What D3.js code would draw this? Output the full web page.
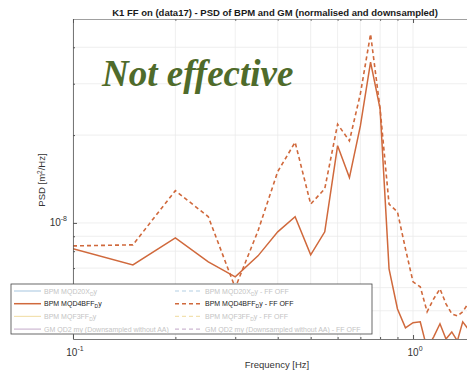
<!DOCTYPE html>
<html>
<head>
<meta charset="utf-8">
<script src="https://cdn.jsdelivr.net/npm/d3@7"></script>
<style>
	body { margin: 0; background: #fff; }
	svg { display: block; font-family: "Liberation Sans", Arial, sans-serif; }
</style>
</head>
<body>
<svg id="chart" width="467" height="375"></svg>
<script>
	//frequencies (Hz) of the downsampled PSD
var freqs = [0.1, 0.15, 0.2, 0.25, 0.3, 0.35, 0.4, 0.45, 0.5, 0.55, 0.6, 0.65, 0.7, 0.75, 0.8,
	0.85, 0.9, 0.95, 1.0, 1.05, 1.1, 1.15, 1.2, 1.25, 1.3, 1.35, 1.4, 1.45];

	//BPM MQD4BFF y - FF on (solid)
var psdOn = [8.15e-9, 7.18e-9, 8.89e-9, 7.35e-9, 6.53e-9, 7.71e-9, 9.32e-9, 1.05e-8, 7.77e-9, 9.32e-9,
	1.84e-8, 1.43e-8, 2.15e-8, 3.56e-8, 2.46e-8, 6.96e-9, 5.07e-9, 4.37e-9, 4.55e-9, 4.58e-9,
	3.7e-9, 4.07e-9, 4.51e-9, 4.0e-9, 4.23e-9, 3.94e-9, 4.58e-9, 4.34e-9];

	//BPM MQD4BFF y - FF OFF (dashed)
var psdOff = [8.34e-9, 8.41e-9, 1.29e-8, 1.05e-8, 5.99e-9, 9.39e-9, 1.5e-8, 1.89e-8, 1.16e-8, 1.31e-8,
	2.18e-8, 1.91e-8, 2.77e-8, 4.44e-8, 2.46e-8, 1.16e-8, 1.09e-8, 8.15e-9, 6.28e-9, 6.04e-9,
	4.96e-9, 5.49e-9, 5.94e-9, 5.28e-9, 4.88e-9, 4.8e-9, 4.96e-9, 5.28e-9];

	//legend entries
var legendNames = ['BPM MQD20X', 'BPM MQD4BFF', 'BPM MQF3FF', 'GM QD2 my (Downsampled without AA)'];
var legendSub = ['D', 'D', 'D', null];
var legendColors = ['#b4cfe4', '#d0693c', '#f2e1b0', '#cdb8d2'];
var legendActive = [false, true, false, false];

var xTicks = [0.1, 1];
var xTickExp = ['-1', '0'];
var yTicks = [1e-8];
var yTickExp = ['-8'];

var svg = d3.select('#chart');
	//note: "top" is a read-only window property, so use other names
var pLeft = 73, pTop = 19, pRight = 477, pBottom = 339;

var x = d3.scaleLog().domain([0.1, 1.542]).range([pLeft, pRight]);
var y = d3.scaleLog().domain([4e-9, 5e-8]).range([pBottom, pTop]);

var minorX = [0.2, 0.3, 0.4, 0.5, 0.6, 0.7, 0.8, 0.9];
var minorY = [5e-9, 6e-9, 7e-9, 8e-9, 9e-9, 2e-8, 3e-8, 4e-8];

	//grid
var grid = svg.append('g').attr('stroke', '#ebebeb').attr('stroke-width', 0.8);
minorX.concat(xTicks).forEach(function(v) {
	grid.append('line').attr('x1', x(v)).attr('x2', x(v)).attr('y1', pTop).attr('y2', pBottom);
});
minorY.concat(yTicks).forEach(function(v) {
	grid.append('line').attr('x1', pLeft).attr('x2', pRight).attr('y1', y(v)).attr('y2', y(v));
});

	//data lines
svg.append('clipPath').attr('id', 'plotclip')
	.append('rect').attr('x', pLeft).attr('y', pTop).attr('width', pRight - pLeft).attr('height', pBottom - pTop);

var line = d3.line()
	.x(function(d) { return x(d[0]); })
	.y(function(d) { return y(d[1]); });

var plot = svg.append('g').attr('clip-path', 'url(#plotclip)');

plot.append('path')
	.datum(d3.zip(freqs, psdOff))
	.attr('d', line)
	.attr('fill', 'none')
	.attr('stroke', '#d0693c')
	.attr('stroke-width', 1.6)
	.attr('stroke-dasharray', '4,3');

plot.append('path')
	.datum(d3.zip(freqs, psdOn))
	.attr('d', line)
	.attr('fill', 'none')
	.attr('stroke', '#d0693c')
	.attr('stroke-width', 1.5);

	//axes (ticks point inside like matlab)
function styleAxis(g) {
	g.selectAll('.domain').attr('stroke', '#555').attr('stroke-width', 0.8);
	g.selectAll('.tick line').attr('stroke', '#555');
}

var xAxis = svg.append('g').attr('transform', 'translate(0,' + pBottom + ')')
	.call(d3.axisBottom(x).tickValues(xTicks).tickSizeInner(-4).tickSizeOuter(0).tickFormat(''));
styleAxis(xAxis);
xAxis.append('g').call(d3.axisBottom(x).tickValues(minorX).tickSize(-2).tickFormat(''))
	.call(function(g) { g.select('.domain').remove(); g.selectAll('line').attr('stroke', '#555'); });

var xTop = svg.append('g').attr('transform', 'translate(0,' + pTop + ')')
	.call(d3.axisTop(x).tickValues(xTicks).tickSizeInner(-4).tickSizeOuter(0).tickFormat(''));
styleAxis(xTop);
xTop.select('.domain').attr('stroke', '#888');
xTop.append('g').call(d3.axisTop(x).tickValues(minorX).tickSize(-2).tickFormat(''))
	.call(function(g) { g.select('.domain').remove(); g.selectAll('line').attr('stroke', '#777'); });

var yAxis = svg.append('g').attr('transform', 'translate(' + pLeft + ',0)')
	.call(d3.axisLeft(y).tickValues(yTicks).tickSizeInner(-4).tickSizeOuter(0).tickFormat(''));
styleAxis(yAxis);
yAxis.append('g').call(d3.axisLeft(y).tickValues(minorY).tickSize(-2).tickFormat(''))
	.call(function(g) { g.select('.domain').remove(); g.selectAll('line').attr('stroke', '#555'); });

	//tick labels with superscripts
xTicks.forEach(function(v, i) {
	var t = svg.append('text').attr('x', x(v) + 2).attr('y', pBottom + 17)
		.attr('text-anchor', 'middle').attr('font-size', 10).attr('fill', '#333');
	t.append('tspan').text('10');
	t.append('tspan').attr('dy', -5).attr('font-size', 7).text(xTickExp[i]);
});
yTicks.forEach(function(v, i) {
	var t = svg.append('text').attr('x', pLeft - 6).attr('y', y(v) + 3)
		.attr('text-anchor', 'end').attr('font-size', 10).attr('fill', '#333');
	t.append('tspan').text('10');
	t.append('tspan').attr('dy', -5).attr('font-size', 7).text(yTickExp[i]);
});

	//axis titles
svg.append('text').attr('x', 277).attr('y', 368).attr('text-anchor', 'middle')
	.attr('font-size', 9.5).attr('fill', '#333').text('Frequency [Hz]');

var ylab = svg.append('text').attr('transform', 'translate(45,180) rotate(-90)')
	.attr('text-anchor', 'middle').attr('font-size', 9.5).attr('fill', '#333');
ylab.append('tspan').text('PSD [m');
ylab.append('tspan').attr('dy', -3).attr('font-size', 6.5).text('2');
ylab.append('tspan').attr('dy', 3).text('/Hz]');

	//title
svg.append('text').attr('x', 275).attr('y', 16).attr('text-anchor', 'middle')
	.attr('font-size', 9.5).attr('font-weight', 'bold').attr('fill', '#1a1a1a')
	.text('K1 FF on (data17) - PSD of BPM and GM (normalised and downsampled)');

	//annotation
svg.append('text').attr('x', 102).attr('y', 86)
	.attr('font-family', '"Liberation Serif", "Times New Roman", serif')
	.attr('font-size', 37).attr('font-weight', 'bold').attr('font-style', 'italic')
	.attr('fill', '#4f6b2b').text('Not effective');

	//legend
var lg = svg.append('g');
lg.append('rect').attr('x', 11).attr('y', 284).attr('width', 361).attr('height', 50)
	.attr('fill', '#fff').attr('stroke', '#444').attr('stroke-width', 0.8);

legendNames.forEach(function(name, i) {
	var ry = 291 + i * 12.7;
	[0, 1].forEach(function(col) {
		var lx = col == 0 ? 14 : 175;
		lg.append('line').attr('x1', lx).attr('x2', lx + 27).attr('y1', ry).attr('y2', ry)
			.attr('stroke', legendColors[i]).attr('stroke-width', legendActive[i] ? 1.5 : 1.2)
			.attr('stroke-dasharray', col == 1 ? '4,3' : null);
		var t = lg.append('text').attr('x', lx + 30).attr('y', ry + 2.5)
			.attr('font-size', 7).attr('fill', legendActive[i] ? '#1a1a1a' : '#c4c4c4');
		t.append('tspan').text(name);
		if (legendSub[i]) {
			t.append('tspan').attr('dy', 2).attr('font-size', 5).text(legendSub[i]);
			t.append('tspan').attr('dy', -2).text('y');
		}
		if (col == 1) t.append('tspan').text(' - FF OFF');
	});
});
</script>
</body>
</html>
